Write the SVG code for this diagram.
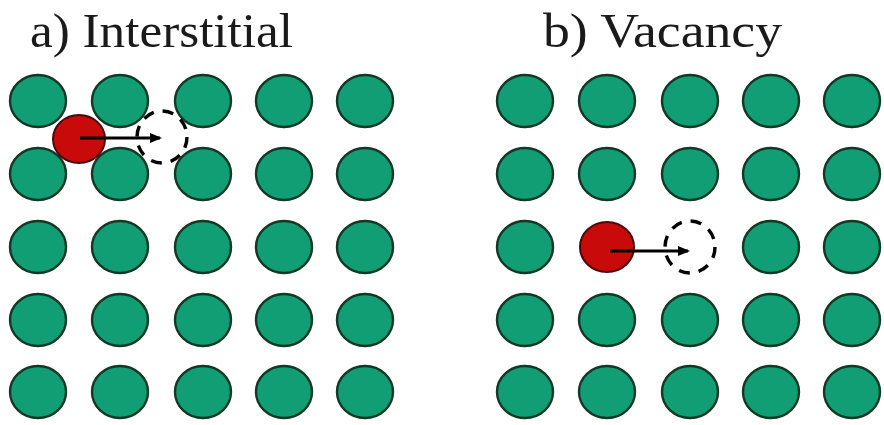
<svg xmlns="http://www.w3.org/2000/svg" width="884" height="425" viewBox="0 0 884 425">
<style>
.g{fill:#129e74;stroke:#123826;stroke-width:2.4}
.r{fill:#c80a0a;stroke:#4a0a0a;stroke-width:2}
.d{fill:none;stroke:#000;stroke-width:3.4;stroke-dasharray:11 9}
.t{font-family:"Liberation Serif","DejaVu Serif",serif;font-size:49px;fill:#1a1a1a}
.a{stroke:#000;stroke-width:2.8;fill:none}
</style>
<defs>
<marker id="ah" markerWidth="12" markerHeight="10" refX="10" refY="5" orient="auto" markerUnits="userSpaceOnUse">
<path d="M0,0 L12,5 L0,10 Z" fill="#000"/>
</marker>
<ellipse id="at" rx="28" ry="26"/>
</defs>
<rect width="884" height="425" fill="#fff"/>
<text class="t" font-family="Liberation Serif, serif" x="30" y="47" textLength="263" lengthAdjust="spacingAndGlyphs">a) Interstitial</text>
<text class="t" font-family="Liberation Serif, serif" x="543" y="47" textLength="239" lengthAdjust="spacingAndGlyphs">b) Vacancy</text>

<g id="lattice-a">
<g id="a-r1"><use href="#at" class="g" x="38" y="101"/><use href="#at" class="g" x="120" y="101"/><use href="#at" class="g" x="203" y="101"/><use href="#at" class="g" x="284" y="101"/><use href="#at" class="g" x="365" y="101"/></g>
<g id="a-r2"><use href="#at" class="g" x="38" y="174"/><use href="#at" class="g" x="120" y="174"/><use href="#at" class="g" x="203" y="174"/><use href="#at" class="g" x="284" y="174"/><use href="#at" class="g" x="365" y="174"/></g>
<g id="a-r3"><use href="#at" class="g" x="38" y="247"/><use href="#at" class="g" x="120" y="247"/><use href="#at" class="g" x="203" y="247"/><use href="#at" class="g" x="284" y="247"/><use href="#at" class="g" x="365" y="247"/></g>
<g id="a-r4"><use href="#at" class="g" x="38" y="320"/><use href="#at" class="g" x="120" y="320"/><use href="#at" class="g" x="203" y="320"/><use href="#at" class="g" x="284" y="320"/><use href="#at" class="g" x="365" y="320"/></g>
<g id="a-r5"><use href="#at" class="g" x="38" y="392"/><use href="#at" class="g" x="120" y="392"/><use href="#at" class="g" x="203" y="392"/><use href="#at" class="g" x="284" y="392"/><use href="#at" class="g" x="365" y="392"/></g>
</g>
<g id="a-interstitial"><ellipse class="r" cx="79" cy="139" rx="26" ry="24"/></g>
<g id="a-target"><ellipse class="d" cx="162" cy="137" rx="25" ry="26"/></g>

<g id="lattice-b">
<g id="b-r1"><use href="#at" class="g" x="525" y="101"/><use href="#at" class="g" x="607" y="101"/><use href="#at" class="g" x="690" y="101"/><use href="#at" class="g" x="771" y="101"/><use href="#at" class="g" x="852" y="101"/></g>
<g id="b-r2"><use href="#at" class="g" x="525" y="174"/><use href="#at" class="g" x="607" y="174"/><use href="#at" class="g" x="690" y="174"/><use href="#at" class="g" x="771" y="174"/><use href="#at" class="g" x="852" y="174"/></g>
<g id="b-r3"><use href="#at" class="g" x="525" y="247"/><use href="#at" class="g" x="771" y="247"/><use href="#at" class="g" x="852" y="247"/></g>
<g id="b-r4"><use href="#at" class="g" x="525" y="320"/><use href="#at" class="g" x="607" y="320"/><use href="#at" class="g" x="690" y="320"/><use href="#at" class="g" x="771" y="320"/><use href="#at" class="g" x="852" y="320"/></g>
<g id="b-r5"><use href="#at" class="g" x="525" y="392"/><use href="#at" class="g" x="607" y="392"/><use href="#at" class="g" x="690" y="392"/><use href="#at" class="g" x="771" y="392"/><use href="#at" class="g" x="852" y="392"/></g>
</g>
<g id="b-atom"><ellipse class="r" cx="607" cy="247" rx="27" ry="25"/></g>
<g id="b-vacancy"><ellipse class="d" cx="690" cy="247" rx="25" ry="26"/></g>

<g id="connectors">
<line class="a" x1="80" y1="138" x2="160" y2="138" marker-end="url(#ah)"/>
<line class="a" x1="610" y1="251" x2="688" y2="251" marker-end="url(#ah)"/>
</g>
</svg>
